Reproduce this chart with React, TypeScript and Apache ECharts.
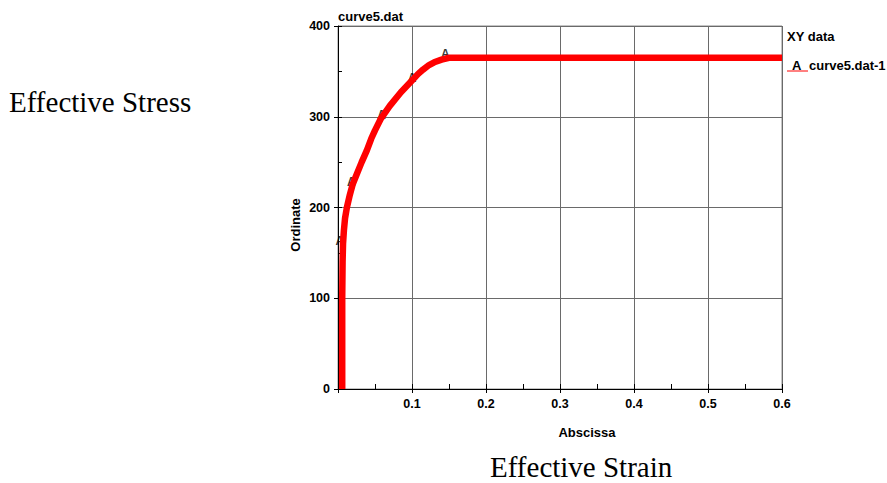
import React, { useEffect, useRef } from "react";
import * as echarts from "echarts";

const strain = [0.0057, 0.0057, 0.0062, 0.0068, 0.008, 0.0095, 0.012, 0.016, 0.02, 0.026, 0.032, 0.039, 0.045, 0.05, 0.058, 0.07, 0.085, 0.1, 0.108, 0.115, 0.123, 0.13, 0.14, 0.15, 0.6];
const stress = [0, 100, 140, 160, 175, 188, 200, 214, 226, 238, 250, 263, 276, 285, 298, 312, 327, 340, 347, 352, 357, 360, 363, 365, 365];

const markerStrain = [0.0025, 0.018, 0.059, 0.1, 0.145];
const markerStress = [163, 228, 302, 343, 369];

const xTicks = [0.1, 0.2, 0.3, 0.4, 0.5, 0.6];
const yTicks = [0, 100, 200, 300, 400];

const SANS = '"Liberation Sans", Arial, Helvetica, sans-serif';
const SERIF = '"Liberation Serif", "Times New Roman", serif';

export default function App() {
  const ref = useRef<HTMLDivElement>(null);
  useEffect(() => {
    document.body.style.margin = "0";
    if (!ref.current) return;
    const chart = echarts.init(ref.current, null, { renderer: "svg" });
    const tickFont = { color: "#000", fontFamily: SANS, fontWeight: "bold" as const, fontSize: 12.5 };
    chart.setOption({
      animation: false,
      backgroundColor: "#ffffff",
      grid: {
        left: 338,
        right: 105,
        top: 26,
        bottom: 94,
        show: true,
        borderColor: "#8a8a8a",
        borderWidth: 1,
        containLabel: false,
      },
      xAxis: [
        {
          type: "value",
          min: 0,
          max: 0.6,
          interval: 0.1,
          axisLine: { show: true, lineStyle: { color: "#000", width: 1 } },
          axisTick: { show: true, inside: false, length: 4, lineStyle: { color: "#000" } },
          axisLabel: {
            ...tickFont,
            margin: 8,
            formatter: (v: number) => {
              const t = xTicks.find((k) => Math.abs(k - v) < 1e-9);
              return t === undefined ? "" : String(t);
            },
          },
          splitLine: { show: true, lineStyle: { color: "#6a6a6a", width: 1 } },
        },
        {
          type: "value",
          position: "bottom",
          min: 0,
          max: 0.6,
          interval: 0.05,
          axisLine: { show: false },
          axisTick: { show: true, inside: true, length: 5, lineStyle: { color: "#000" } },
          axisLabel: { show: false },
          splitLine: { show: false },
        },
      ],
      yAxis: [
        {
          type: "value",
          min: 0,
          max: 400,
          interval: 100,
          axisLine: { show: true, lineStyle: { color: "#000", width: 1 } },
          axisTick: { show: true, inside: false, length: 4, lineStyle: { color: "#000" } },
          axisLabel: {
            ...tickFont,
            margin: 8,
            formatter: (v: number) => {
              const t = yTicks.find((k) => Math.abs(k - v) < 1e-9);
              return t === undefined ? "" : String(t);
            },
          },
          splitLine: { show: true, lineStyle: { color: "#6a6a6a", width: 1 } },
        },
        {
          type: "value",
          position: "left",
          min: 0,
          max: 400,
          interval: 50,
          axisLine: { show: false },
          axisTick: { show: true, inside: true, length: 4, lineStyle: { color: "#000" } },
          axisLabel: { show: false },
          splitLine: { show: false },
        },
      ],
      series: [
        {
          type: "scatter",
          xAxisIndex: 0,
          yAxisIndex: 0,
          symbolSize: 1,
          itemStyle: { color: "transparent" },
          data: markerStrain.map((x, i) => [x, markerStress[i]]),
          label: {
            show: true,
            position: "inside",
            formatter: "A",
            color: "#000",
            fontFamily: SANS,
            fontWeight: "bold",
            fontSize: 12,
          },
          z: 2,
        },
        {
          type: "line",
          xAxisIndex: 0,
          yAxisIndex: 0,
          data: strain.map((x, i) => [x, stress[i]]),
          showSymbol: false,
          symbol: "none",
          lineStyle: { color: "#ff0000", width: 6.5, join: "round", cap: "butt" },
          z: 3,
        },
      ],
      graphic: [
        {
          type: "text",
          left: 9,
          top: 87,
          style: { text: "Effective Stress", font: `29px ${SERIF}`, fill: "#000" },
        },
        {
          type: "text",
          left: 490,
          top: 452,
          style: { text: "Effective Strain", font: `29px ${SERIF}`, fill: "#000" },
        },
        {
          type: "text",
          left: 338,
          top: 10,
          style: { text: "curve5.dat", font: `bold 13px ${SANS}`, fill: "#000" },
        },
        {
          type: "text",
          left: 787,
          top: 30,
          style: { text: "XY data", font: `bold 13px ${SANS}`, fill: "#000" },
        },
        {
          type: "text",
          left: 792,
          top: 59,
          style: { text: "A", font: `bold 13px ${SANS}`, fill: "#000" },
        },
        {
          type: "line",
          shape: { x1: 787, y1: 71, x2: 808, y2: 71 },
          style: { stroke: "#ff0000", lineWidth: 1 },
        },
        {
          type: "text",
          left: 809,
          top: 59,
          style: { text: "curve5.dat-1", font: `bold 13px ${SANS}`, fill: "#000" },
        },
        {
          type: "text",
          x: 295,
          y: 225,
          rotation: Math.PI / 2,
          style: {
            text: "Ordinate",
            font: `bold 13px ${SANS}`,
            fill: "#000",
            textAlign: "center",
            textVerticalAlign: "middle",
          },
        },
        {
          type: "text",
          x: 587,
          y: 432,
          style: {
            text: "Abscissa",
            font: `bold 13px ${SANS}`,
            fill: "#000",
            textAlign: "center",
            textVerticalAlign: "middle",
          },
        },
      ],
    });
    return () => chart.dispose();
  }, []);
  return <div ref={ref} style={{ width: 887, height: 483 }} />;
}
